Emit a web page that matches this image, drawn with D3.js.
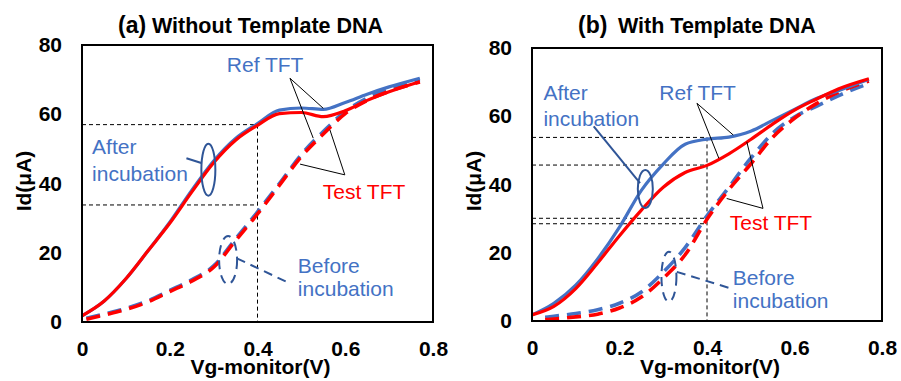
<!DOCTYPE html>
<html>
<head>
<meta charset="utf-8">
<script src="https://cdn.jsdelivr.net/npm/d3@7"></script>
<style>
  html, body { margin: 0; padding: 0; background: #fff; }
  svg { display: block; }
  text { font-family: "Liberation Sans", Arial, sans-serif; }
</style>
</head>
<body>
<svg id="chart" width="901" height="381"></svg>
<script>
// ---------------- DATA ----------------
const xTicks = [0, 0.2, 0.4, 0.6, 0.8];
const xTickLabels = ["0", "0.2", "0.4", "0.6", "0.8"];
const yTicks = [0, 20, 40, 60, 80];
const yTickLabels = ["0", "20", "40", "60", "80"];

// Vg-monitor (V) sample points
const vgAfter = [0, 0.05, 0.1, 0.15, 0.2, 0.25, 0.3, 0.35, 0.4, 0.45, 0.5, 0.55, 0.6, 0.65, 0.7, 0.77];
const vgBeforeA = [0.01, 0.05, 0.1, 0.15, 0.2, 0.25, 0.3, 0.35, 0.4, 0.45, 0.5, 0.55, 0.6, 0.65, 0.7, 0.77];
const vgBeforeB = [0.03, 0.05, 0.1, 0.15, 0.2, 0.25, 0.3, 0.35, 0.4, 0.45, 0.5, 0.55, 0.6, 0.65, 0.7, 0.77];

// (a) Without Template DNA — Id (µA)
const aAfterRef   = [1.8, 6.0, 12.5, 20.5, 28.8, 38.0, 46.5, 53.0, 57.3, 61.2, 61.8, 61.4, 63.4, 65.8, 67.9, 70.4];
const aAfterTest  = [1.8, 6.0, 12.5, 20.5, 28.5, 37.5, 46.0, 52.5, 56.8, 60.2, 60.5, 59.3, 61.0, 64.0, 66.5, 69.4];
const aBeforeRef  = [1.1, 2.3, 3.9, 6.1, 9.1, 12.2, 16.2, 24.0, 31.8, 40.0, 48.4, 55.0, 60.8, 64.7, 67.3, 70.0];
const aBeforeTest = [0.8, 2.0, 3.6, 5.8, 8.8, 11.8, 15.8, 23.5, 31.2, 39.5, 47.8, 54.3, 60.2, 64.0, 66.6, 69.3];

// (b) With Template DNA — Id (µA)
const bAfterRef   = [1.8, 5.2, 10.5, 18.2, 27.5, 38.3, 46.0, 51.8, 53.3, 53.9, 55.6, 58.8, 62.0, 65.2, 67.5, 70.8];
const bAfterTest  = [1.8, 4.3, 9.5, 17.0, 25.0, 32.5, 39.2, 43.5, 45.6, 49.0, 53.2, 57.7, 61.8, 65.0, 68.0, 71.0];
const bBeforeRef  = [1.1, 1.4, 2.2, 3.3, 5.2, 8.5, 14.3, 21.5, 30.8, 39.2, 47.7, 55.0, 59.8, 62.9, 66.0, 69.6];
const bBeforeTest = [0.4, 0.6, 1.2, 2.0, 3.8, 7.0, 12.5, 19.4, 29.8, 38.5, 46.0, 53.8, 59.4, 63.7, 67.0, 70.3];

// guide lines (reading values at Vg = 0.4 V)
const aGuideV = 0.4;
const aGuideLevels = [57.0, 33.8];
const bGuideV = 0.4;
const bGuideLevels = [53.8, 45.7, 30.1, 28.5];

const titles = [["(a)", "Without Template DNA"], ["(b)", "With Template DNA"]];
const xTitle = "Vg-monitor(V)";
const yTitle = "Id(\u03bcA)";

// ---------------- STYLE ----------------
const BLUE = "#4472C4";
const RED = "#FF0000";
const DARKBLUE = "#2F5597";

const svg = d3.select("#chart");

function panel(cfg) {
  const x = d3.scaleLinear().domain([0, 0.8]).range([cfg.x0, cfg.x1]);
  const y = d3.scaleLinear().domain([0, 80]).range([cfg.y0, cfg.y1]);
  const g = svg.append("g");

  // guide lines
  const gv = x(cfg.guideV);
  const topLevel = d3.max(cfg.guideLevels);
  cfg.guideLevels.forEach(v => {
    g.append("line").attr("x1", x(0)).attr("x2", gv).attr("y1", y(v)).attr("y2", y(v))
      .attr("stroke", "#000").attr("stroke-width", 1).attr("stroke-dasharray", "4,3");
  });
  g.append("line").attr("x1", gv).attr("x2", gv).attr("y1", y(topLevel)).attr("y2", y(0))
    .attr("stroke", "#000").attr("stroke-width", 1).attr("stroke-dasharray", "4,3");

  const line = (xs) => d3.line().x((d, i) => x(xs[i])).y(d => y(d)).curve(d3.curveMonotoneX);

  // before (dashed)
  g.append("path").attr("d", line(cfg.vgB)(cfg.beforeRef)).attr("fill", "none")
    .attr("stroke", BLUE).attr("stroke-width", 3.6).attr("stroke-dasharray", "14,8");
  g.append("path").attr("d", line(cfg.vgB)(cfg.beforeTest)).attr("fill", "none")
    .attr("stroke", RED).attr("stroke-width", 3.6).attr("stroke-dasharray", "14,8");
  // after (solid)
  g.append("path").attr("d", line(vgAfter)(cfg.afterRef)).attr("fill", "none")
    .attr("stroke", BLUE).attr("stroke-width", 3.2);
  g.append("path").attr("d", line(vgAfter)(cfg.afterTest)).attr("fill", "none")
    .attr("stroke", RED).attr("stroke-width", 3.2);

  // frame
  g.append("rect").attr("x", cfg.x0).attr("y", cfg.y1).attr("width", cfg.x1 - cfg.x0)
    .attr("height", cfg.y0 - cfg.y1).attr("fill", "none").attr("stroke", "#000").attr("stroke-width", 2);

  // axes
  const xa = g.append("g").attr("transform", `translate(0,${cfg.y0})`)
    .call(d3.axisBottom(x).tickValues(xTicks).tickFormat((d, i) => xTickLabels[i]).tickSize(0).tickPadding(19));
  const ya = g.append("g").attr("transform", `translate(${cfg.x0},0)`)
    .call(d3.axisLeft(y).tickValues(yTicks).tickFormat((d, i) => yTickLabels[i]).tickSize(0).tickPadding(20));
  [xa, ya].forEach(a => {
    a.select(".domain").remove();
    a.selectAll("text").attr("font-family", "'Liberation Sans', Arial, sans-serif")
      .attr("font-size", 21).attr("font-weight", "bold").attr("fill", "#000");
  });

  // axis titles
  g.append("text").attr("x", (cfg.x0 + cfg.x1) / 2 + 3).attr("y", 374).attr("text-anchor", "middle")
    .attr("font-size", 21).attr("font-weight", "bold").text(xTitle);
  g.append("text").attr("transform", `translate(${cfg.yTitleX},181) rotate(-90)`).attr("text-anchor", "middle")
    .attr("font-size", 21).attr("font-weight", "bold").text(yTitle);

  // panel title
  g.append("text").attr("x", cfg.titleX).attr("y", 33).attr("font-size", 23).attr("font-weight", "bold").text(cfg.title[0]);
  g.append("text").attr("x", cfg.titleX2).attr("y", 33).attr("font-size", 21.5).attr("font-weight", "bold").text(cfg.title[1]);

  // annotations (positions in data units)
  const P = (p) => [x(p[0]), y(p[1])];
  const seg = (a, b, color, dash, w) => {
    const A = P(a), B = P(b);
    g.append("line").attr("x1", A[0]).attr("y1", A[1]).attr("x2", B[0]).attr("y2", B[1])
      .attr("stroke", color).attr("stroke-width", w || 1).attr("stroke-dasharray", dash || null);
  };
  const ell = (c, rx, ry, color, dash) => {
    const C = P(c);
    g.append("ellipse").attr("cx", C[0]).attr("cy", C[1]).attr("rx", rx).attr("ry", ry)
      .attr("fill", "none").attr("stroke", color).attr("stroke-width", 2).attr("stroke-dasharray", dash || null);
  };
  const txt = (p, s, color) => {
    const Q = P(p);
    g.append("text").attr("x", Q[0]).attr("y", Q[1]).attr("font-size", 21).attr("fill", color).text(s);
  };
  const a = cfg.ann;
  a.refLines.forEach(e => seg(a.refVertex, e, "#000"));
  a.testLines.forEach(e => seg(a.testVertex, e, "#000"));
  seg(a.afterLine[0], a.afterLine[1], DARKBLUE, null, 2);
  ell(a.afterEll, a.afterEllR[0], a.afterEllR[1], DARKBLUE);
  seg(a.beforeLine[0], a.beforeLine[1], DARKBLUE, "9,6", 2);
  ell(a.beforeEll, a.beforeEllR[0], a.beforeEllR[1], DARKBLUE, "9,6");
  txt(a.refText, "Ref TFT", BLUE);
  txt(a.testText, "Test TFT", RED);
  txt(a.afterText[0], "After", BLUE);
  txt(a.afterText[1], "incubation", BLUE);
  txt(a.beforeText[0], "Before", BLUE);
  txt(a.beforeText[1], "incubation", BLUE);
}

panel({
  x0: 82, x1: 433, y0: 322, y1: 45, yTitleX: 31, titleX: 118, titleX2: 152,
  title: titles[0], vgB: vgBeforeA,
  afterRef: aAfterRef, afterTest: aAfterTest, beforeRef: aBeforeRef, beforeTest: aBeforeTest,
  guideV: aGuideV, guideLevels: aGuideLevels,
  ann: {
    refVertex: [0.474, 70.4], refLines: [[0.527, 53.1], [0.55, 61.7]],
    testVertex: [0.599, 42.5], testLines: [[0.565, 55.5], [0.497, 45.6]],
    afterLine: [[0.238, 47.3], [0.272, 45.9]], afterEll: [0.288, 44.0], afterEllR: [7, 26],
    beforeLine: [[0.353, 18.4], [0.466, 11.6]], beforeEll: [0.333, 17.9], beforeEllR: [9, 24],
    refText: [0.33, 72.2], testText: [0.549, 35.5],
    afterText: [[0.023, 48.5], [0.023, 40.7]],
    beforeText: [[0.492, 14.1], [0.492, 7.5]]
  }
});

panel({
  x0: 532, x1: 882, y0: 321, y1: 48, yTitleX: 481, titleX: 578, titleX2: 618,
  title: titles[1], vgB: vgBeforeB,
  afterRef: bAfterRef, afterTest: bAfterTest, beforeRef: bBeforeRef, beforeTest: bBeforeTest,
  guideV: bGuideV, guideLevels: bGuideLevels,
  ann: {
    refVertex: [0.377, 63.8], refLines: [[0.46, 54.5], [0.427, 47.7]],
    testVertex: [0.528, 33.0], testLines: [[0.491, 52.5], [0.445, 35.9]],
    afterLine: [[0.141, 57.0], [0.247, 40.4]], afterEll: [0.259, 38.7], afterEllR: [7.5, 19],
    beforeLine: [[0.331, 14.4], [0.453, 9.6]], beforeEll: [0.313, 13.0], beforeEllR: [7.5, 25],
    refText: [0.291, 64.8], testText: [0.452, 26.7],
    afterText: [[0.026, 64.9], [0.026, 57.1]],
    beforeText: [[0.459, 10.6], [0.459, 3.9]]
  }
});
</script>
</body>
</html>
